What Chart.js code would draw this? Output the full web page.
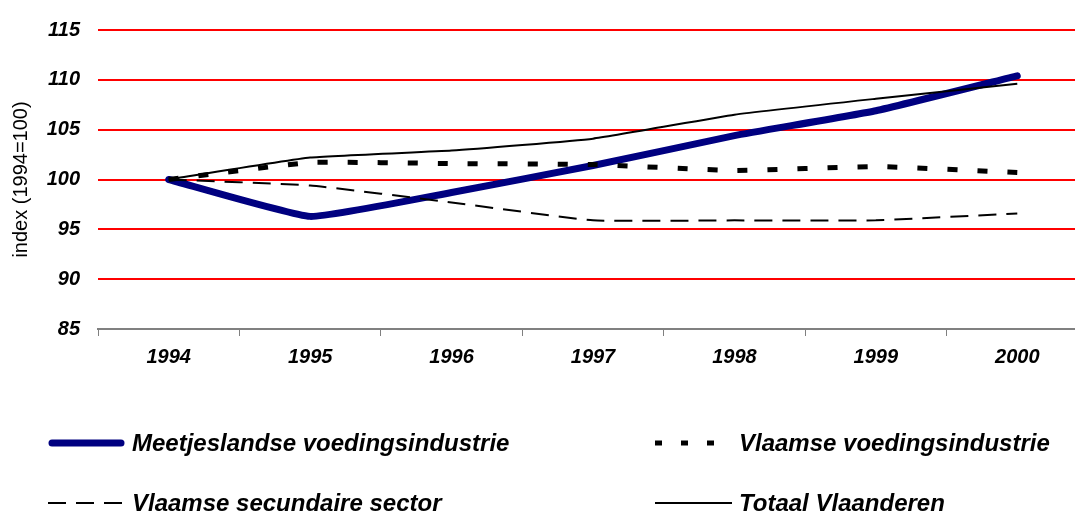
<!DOCTYPE html>
<html>
<head>
<meta charset="utf-8">
<script src="https://cdn.jsdelivr.net/npm/chart.js@4/dist/chart.umd.min.js"></script>
<style>
  html, body { margin: 0; padding: 0; background: #fff; overflow: hidden; }
  #wrap { width: 1088px; height: 513px; }
</style>
</head>
<body>
<div id="wrap"><canvas id="chart" width="1088" height="513"></canvas></div>
<script>
const years = ['1994', '1995', '1996', '1997', '1998', '1999', '2000'];
const meetjeslandse = [100, 96.3, 98.7, 101.4, 104.4, 106.9, 110.4];
const vlaamseVoeding = [100, 101.7, 101.6, 101.5, 100.9, 101.3, 100.7];
const vlaamseSecundair = [100, 99.4, 97.7, 95.9, 95.9, 95.9, 96.6];
const totaalVlaanderen = [100, 102.2, 102.9, 104.1, 106.5, 108.1, 109.6];
const yTicks = [85, 90, 95, 100, 105, 110, 115];

const FONT = "'Liberation Sans', Arial, sans-serif";

// legend drawn by hand in two columns, like the original
const legendPlugin = {
  id: 'twoColLegend',
  afterDraw(chart) {
    const ctx = chart.ctx;
    const slots = [
      { ds: 0, x: 48, y: 443 },
      { ds: 1, x: 655, y: 443 },
      { ds: 2, x: 48, y: 503 },
      { ds: 3, x: 655, y: 503 }
    ];
    ctx.save();
    slots.forEach(s => {
      const d = chart.data.datasets[s.ds];
      ctx.beginPath();
      ctx.strokeStyle = d.borderColor;
      ctx.lineWidth = d.borderWidth;
      ctx.lineCap = d.borderCapStyle || 'butt';
      ctx.setLineDash(d.legendDash || []);
      ctx.moveTo(s.x + (d.borderWidth > 5 ? 4 : 0), s.y);
      ctx.lineTo(s.x + 77 - (d.borderWidth > 5 ? 4 : 0), s.y);
      ctx.stroke();
      ctx.setLineDash([]);
      ctx.fillStyle = '#000';
      ctx.font = 'bold italic 24px ' + FONT;
      ctx.textBaseline = 'middle';
      ctx.fillText(d.label, s.x + 84, s.y + 1);
    });
    ctx.restore();
  }
};

new Chart(document.getElementById('chart'), {
  type: 'line',
  data: {
    labels: years,
    datasets: [{
      label: 'Meetjeslandse voedingsindustrie',
      data: meetjeslandse,
      borderColor: '#000080',
      borderWidth: 7,
      borderCapStyle: 'round',
      borderJoinStyle: 'round',
      order: 4
    }, {
      label: 'Vlaamse voedingsindustrie',
      data: vlaamseVoeding,
      borderColor: '#000000',
      borderWidth: 5,
      borderDash: [10, 20],
      legendDash: [7, 19],
      order: 3
    }, {
      label: 'Vlaamse secundaire sector',
      data: vlaamseSecundair,
      borderColor: '#000000',
      borderWidth: 2,
      borderDash: [18, 10],
      legendDash: [18, 10],
      order: 2
    }, {
      label: 'Totaal Vlaanderen',
      data: totaalVlaanderen,
      borderColor: '#000000',
      borderWidth: 2,
      order: 1
    }]
  },
  options: {
    responsive: false,
    animation: false,
    layout: { padding: { top: 26, bottom: 144, right: 0, left: 0 } },
    elements: {
      point: { radius: 0 },
      line: { tension: 0.12, fill: false }
    },
    plugins: {
      legend: { display: false },
      tooltip: { enabled: false }
    },
    scales: {
      x: {
        offset: true,
        grid: {
          offset: true,
          drawOnChartArea: false,
          drawTicks: true,
          tickLength: 7,
          color: '#808080'
        },
        border: { color: '#808080', width: 2 },
        ticks: {
          color: '#000',
          padding: 9,
          font: { family: FONT, size: 20, weight: 'bold', style: 'italic' }
        },
        afterFit(scale) { scale.height = 40; }
      },
      y: {
        min: 85,
        max: 115,
        afterBuildTicks(scale) { scale.ticks = yTicks.map(v => ({ value: v })); },
        grid: {
          drawTicks: false,
          lineWidth: 2,
          color: c => (c.tick && c.tick.value === 85) ? 'rgba(0,0,0,0)' : '#ff0000'
        },
        border: { display: false },
        ticks: {
          color: '#000',
          padding: 18,
          font: { family: FONT, size: 20, weight: 'bold', style: 'italic' }
        },
        title: {
          display: true,
          text: 'index (1994=100)',
          color: '#000',
          padding: { top: 9, bottom: 0 },
          font: { family: FONT, size: 20 }
        },
        afterFit(scale) { scale.width = 98; }
      }
    }
  },
  plugins: [legendPlugin]
});
</script>
</body>
</html>
